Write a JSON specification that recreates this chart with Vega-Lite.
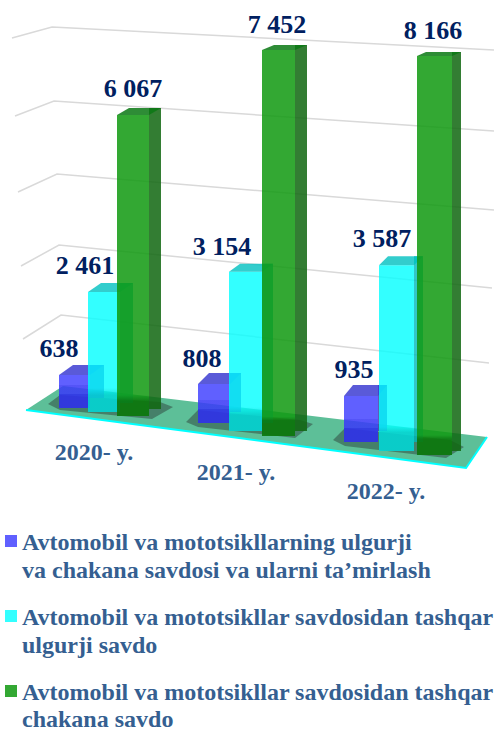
{"$schema":"https://vega.github.io/schema/vega-lite/v6.json","width":494,"height":729,"autosize":{"type":"none"},"padding":0,"background":"white","config":{"view":{"stroke":null}},
"datasets":{"bars":[
{"year":"2020- y.","s":"a","series":"Avtomobil va mototsikllarning ulgurji va chakana savdosi va ularni ta’mirlash","label":"638","value":638},
{"year":"2020- y.","s":"b","series":"Avtomobil va mototsikllar savdosidan tashqar ulgurji savdo","label":"2 461","value":2461},
{"year":"2020- y.","s":"c","series":"Avtomobil va mototsikllar savdosidan tashqar chakana savdo","label":"6 067","value":6067},
{"year":"2021- y.","s":"a","series":"Avtomobil va mototsikllarning ulgurji va chakana savdosi va ularni ta’mirlash","label":"808","value":808},
{"year":"2021- y.","s":"b","series":"Avtomobil va mototsikllar savdosidan tashqar ulgurji savdo","label":"3 154","value":3154},
{"year":"2021- y.","s":"c","series":"Avtomobil va mototsikllar savdosidan tashqar chakana savdo","label":"7 452","value":7452},
{"year":"2022- y.","s":"a","series":"Avtomobil va mototsikllarning ulgurji va chakana savdosi va ularni ta’mirlash","label":"935","value":935},
{"year":"2022- y.","s":"b","series":"Avtomobil va mototsikllar savdosidan tashqar ulgurji savdo","label":"3 587","value":3587},
{"year":"2022- y.","s":"c","series":"Avtomobil va mototsikllar savdosidan tashqar chakana savdo","label":"8 166","value":8166}],
"grid":[{"level":2000},{"level":4000},{"level":6000},{"level":8000},{"level":10000}],
"floor":[{"level":0}],
"key":[
{"s":"a","series":"Avtomobil va mototsikllarning ulgurji va chakana savdosi va ularni ta’mirlash","line":0,"text":"Avtomobil va mototsikllarning ulgurji"},
{"s":"a","series":"Avtomobil va mototsikllarning ulgurji va chakana savdosi va ularni ta’mirlash","line":1,"text":"\u00a0va chakana savdosi va ularni ta’mirlash"},
{"s":"b","series":"Avtomobil va mototsikllar savdosidan tashqar ulgurji savdo","line":0,"text":"Avtomobil va mototsikllar savdosidan tashqar"},
{"s":"b","series":"Avtomobil va mototsikllar savdosidan tashqar ulgurji savdo","line":1,"text":"ulgurji savdo"},
{"s":"c","series":"Avtomobil va mototsikllar savdosidan tashqar chakana savdo","line":0,"text":"Avtomobil va mototsikllar savdosidan tashqar"},
{"s":"c","series":"Avtomobil va mototsikllar savdosidan tashqar chakana savdo","line":1,"text":"chakana savdo"}]},
"data":{"name":"bars"},
"resolve":{"scale":{"x":"independent","y":"independent"}},
"layer":[
{"data":{"name":"grid"},"mark":{"type":"point","filled":false,"stroke":"#d9d9d9","strokeWidth":1.5,"opacity":1,"size":40000},"encoding":{"x":{"field":"level","type":"quantitative","axis":null,"scale":{"domain":[2000,10000],"range":[61,52],"nice":false,"zero":false}},"y":{"field":"level","type":"quantitative","axis":null,"scale":{"domain":[2000,10000],"range":[315,27],"nice":false,"zero":false}},"shape":{"field":"level","type":"ordinal","legend":null,"scale":{"domain":[2000,4000,6000,8000,10000],"range":["M-0.38 0.24L0 0L4.28 0.48","M-0.3775 0.23L0.0025 0.02L4.3325 0.45","M-0.385 0.21L0.005 0.03L4.375 0.39","M-0.3925 0.17L-0.0025 0.02L4.3975 0.32","M-0.40 0.11L0 0L4.42 0.23"]}}}},
{"data":{"name":"floor"},"encoding":{"x":{"field":"level","type":"quantitative","axis":null,"scale":{"domain":[0,1],"range":[63,64],"nice":false}},"y":{"field":"level","type":"quantitative","axis":null,"scale":{"domain":[0,1],"range":[386,385],"nice":false}}},"layer":[
{"mark":{"type":"point","filled":true,"fill":"#5dbf98","opacity":1,"size":40000,"shape":"M-0.37 0.24L0 0L4.24 0.51L4.03 0.82Z"}},
{"mark":{"type":"point","filled":true,"fill":"#222222","opacity":0.4,"size":40000,"shape":"M-0.15 0.18L-0.03 0.09L0.97 0.16L1.10 0.21L0.89 0.33L-0.03 0.24ZM1.23 0.36L1.35 0.24L2.37 0.34L2.50 0.38L2.32 0.52L1.35 0.41ZM2.70 0.54L2.82 0.42L3.87 0.54L4.01 0.61L3.83 0.72L2.82 0.60Z"}},
{"mark":{"type":"point","filled":false,"stroke":"#00ffff","strokeWidth":2,"opacity":1,"size":40000,"shape":"M-0.37 0.24L4.03 0.82L4.24 0.51"}}]},

{"transform":[{"filter":"datum.year=='2020- y.'&&datum.s=='a'"}],"encoding":{"x":{"field":"s","type":"nominal","axis":null,"scale":{"type":"point","domain":["a"],"range":[74.5,74.5]}},"y":{"field":"value","type":"quantitative","axis":null,"scale":{"domain":[0,8166],"range":[408,-14],"nice":false}}},"layer":[
{"mark":{"type":"bar","size":14,"color":"#4040b0","opacity":0.85,"xOffset":22.5,"yOffset":-10,"y2Offset":-5}},
{"mark":{"type":"bar","size":31,"opacity":0.85},"encoding":{"color":{"field":"series","type":"nominal","legend":null,"scale":{"domain":["Avtomobil va mototsikllarning ulgurji va chakana savdosi va ularni ta’mirlash","Avtomobil va mototsikllar savdosidan tashqar ulgurji savdo","Avtomobil va mototsikllar savdosidan tashqar chakana savdo"],"range":["#4444ff","#00ffff","#109910"]}}}},
{"mark":{"type":"bar","size":31,"fill":{"gradient":"linear","x1":0,"y1":0,"x2":0,"y2":1,"stops":[{"offset":0.30,"color":"rgba(0,0,192,0)"},{"offset":0.30,"color":"rgba(0,0,192,0.12)"},{"offset":0.58,"color":"rgba(0,0,192,0.12)"},{"offset":0.58,"color":"rgba(0,0,192,0.28)"},{"offset":1,"color":"rgba(0,0,192,0.28)"}]}}},
{"mark":{"type":"point","filled":true,"fill":"#3d3dd1","opacity":0.85,"size":400,"shape":"M-1.55 0L-0.15 -1L2.95 -1L1.55 0Z"}},
{"mark":{"type":"text","font":"Liberation Serif","fontWeight":"bold","fontSize":26,"color":"#002060","baseline":"alphabetic","dx":-15.5,"dy":-18},"encoding":{"text":{"field":"label"}}},
{"mark":{"type":"text","font":"Liberation Serif","fontWeight":"bold","fontSize":24,"color":"#355f91","baseline":"alphabetic","dx":19.5,"dy":85},"encoding":{"text":{"field":"year"}}}]},

{"transform":[{"filter":"datum.year=='2020- y.'&&datum.s=='b'"}],"encoding":{"x":{"field":"s","type":"nominal","axis":null,"scale":{"type":"point","domain":["b"],"range":[104,104]}},"y":{"field":"value","type":"quantitative","axis":null,"scale":{"domain":[0,8166],"range":[412,14],"nice":false}}},"layer":[
{"mark":{"type":"bar","size":13,"color":"#00b8b8","opacity":0.8,"xOffset":22.5,"yOffset":-9,"y2Offset":-5}},
{"mark":{"type":"bar","size":32,"opacity":0.8},"encoding":{"color":{"field":"series","type":"nominal","legend":null}}},
{"mark":{"type":"bar","size":32,"fill":{"gradient":"linear","x1":0,"y1":0,"x2":0,"y2":1,"stops":[{"offset":0.8,"color":"rgba(0,144,144,0)"},{"offset":0.86,"color":"rgba(0,144,144,0.3)"},{"offset":1,"color":"rgba(0,144,144,0.3)"}]}}},
{"mark":{"type":"point","filled":true,"fill":"#00c0c0","opacity":0.8,"size":400,"shape":"M-1.6 0L-0.3 -0.9L2.9 -0.9L1.6 0Z"}},
{"mark":{"type":"text","font":"Liberation Serif","fontWeight":"bold","fontSize":26,"color":"#002060","baseline":"alphabetic","dx":-19,"dy":-18},"encoding":{"text":{"field":"label"}}}]},

{"transform":[{"filter":"datum.year=='2020- y.'&&datum.s=='c'"}],"encoding":{"x":{"field":"s","type":"nominal","axis":null,"scale":{"type":"point","domain":["c"],"range":[133,133]}},"y":{"field":"value","type":"quantitative","axis":null,"scale":{"domain":[0,8166],"range":[416,11],"nice":false}}},"layer":[
{"mark":{"type":"bar","size":12,"color":"#106710","opacity":0.855,"xOffset":22,"yOffset":-7,"y2Offset":-6}},
{"mark":{"type":"bar","size":32,"opacity":0.855},"encoding":{"color":{"field":"series","type":"nominal","legend":null}}},
{"mark":{"type":"bar","size":32,"fill":{"gradient":"linear","x1":0,"y1":0,"x2":0,"y2":1,"stops":[{"offset":0.93,"color":"rgba(0,64,0,0)"},{"offset":0.95,"color":"rgba(0,64,0,0.35)"},{"offset":1,"color":"rgba(0,64,0,0.35)"}]}}},
{"mark":{"type":"point","filled":true,"fill":"#0a7814","opacity":0.855,"size":400,"shape":"M-1.6 0L-0.4 -0.7L2.8 -0.7L1.6 0Z"}},
{"mark":{"type":"text","font":"Liberation Serif","fontWeight":"bold","fontSize":26,"color":"#002060","baseline":"alphabetic","dx":0,"dy":-18},"encoding":{"text":{"field":"label"}}}]},

{"transform":[{"filter":"datum.year=='2021- y.'&&datum.s=='a'"}],"encoding":{"x":{"field":"s","type":"nominal","axis":null,"scale":{"type":"point","domain":["a"],"range":[214,214]}},"y":{"field":"value","type":"quantitative","axis":null,"scale":{"domain":[0,8166],"range":[423,29],"nice":false}}},"layer":[
{"mark":{"type":"bar","size":11,"color":"#4040b0","opacity":0.85,"xOffset":21.5,"yOffset":-11,"y2Offset":-5}},
{"mark":{"type":"bar","size":32,"opacity":0.85},"encoding":{"color":{"field":"series","type":"nominal","legend":null}}},
{"mark":{"type":"bar","size":32,"fill":{"gradient":"linear","x1":0,"y1":0,"x2":0,"y2":1,"stops":[{"offset":0.41,"color":"rgba(0,0,192,0)"},{"offset":0.41,"color":"rgba(0,0,192,0.12)"},{"offset":0.64,"color":"rgba(0,0,192,0.12)"},{"offset":0.64,"color":"rgba(0,0,192,0.28)"},{"offset":1,"color":"rgba(0,0,192,0.28)"}]}}},
{"mark":{"type":"point","filled":true,"fill":"#3d3dd1","opacity":0.85,"size":400,"shape":"M-1.6 0L-0.5 -1.1L2.7 -1.1L1.6 0Z"}},
{"mark":{"type":"text","font":"Liberation Serif","fontWeight":"bold","fontSize":26,"color":"#002060","baseline":"alphabetic","dx":-12,"dy":-17},"encoding":{"text":{"field":"label"}}},
{"mark":{"type":"text","font":"Liberation Serif","fontWeight":"bold","fontSize":24,"color":"#355f91","baseline":"alphabetic","dx":22,"dy":96},"encoding":{"text":{"field":"year"}}}]},

{"transform":[{"filter":"datum.year=='2021- y.'&&datum.s=='b'"}],"encoding":{"x":{"field":"s","type":"nominal","axis":null,"scale":{"type":"point","domain":["b"],"range":[245.5,245.5]}},"y":{"field":"value","type":"quantitative","axis":null,"scale":{"domain":[0,8166],"range":[431,19],"nice":false}}},"layer":[
{"mark":{"type":"bar","size":11,"color":"#00b8b8","opacity":0.8,"xOffset":22,"yOffset":-8,"y2Offset":-5}},
{"mark":{"type":"bar","size":33,"opacity":0.8},"encoding":{"color":{"field":"series","type":"nominal","legend":null}}},
{"mark":{"type":"bar","size":33,"fill":{"gradient":"linear","x1":0,"y1":0,"x2":0,"y2":1,"stops":[{"offset":0.85,"color":"rgba(0,144,144,0)"},{"offset":0.9,"color":"rgba(0,144,144,0.3)"},{"offset":1,"color":"rgba(0,144,144,0.3)"}]}}},
{"mark":{"type":"point","filled":true,"fill":"#00c0c0","opacity":0.8,"size":400,"shape":"M-1.65 0L-0.55 -0.8L2.75 -0.8L1.65 0Z"}},
{"mark":{"type":"text","font":"Liberation Serif","fontWeight":"bold","fontSize":26,"color":"#002060","baseline":"alphabetic","dx":-23.5,"dy":-17},"encoding":{"text":{"field":"label"}}}]},

{"transform":[{"filter":"datum.year=='2021- y.'&&datum.s=='c'"}],"encoding":{"x":{"field":"s","type":"nominal","axis":null,"scale":{"type":"point","domain":["c"],"range":[278.5,278.5]}},"y":{"field":"value","type":"quantitative","axis":null,"scale":{"domain":[0,8166],"range":[436,13],"nice":false}}},"layer":[
{"mark":{"type":"bar","size":12,"color":"#106710","opacity":0.855,"xOffset":22.5,"yOffset":-5,"y2Offset":-7}},
{"mark":{"type":"bar","size":33,"opacity":0.855},"encoding":{"color":{"field":"series","type":"nominal","legend":null}}},
{"mark":{"type":"bar","size":33,"fill":{"gradient":"linear","x1":0,"y1":0,"x2":0,"y2":1,"stops":[{"offset":0.95,"color":"rgba(0,64,0,0)"},{"offset":0.96,"color":"rgba(0,64,0,0.35)"},{"offset":1,"color":"rgba(0,64,0,0.35)"}]}}},
{"mark":{"type":"point","filled":true,"fill":"#0a7814","opacity":0.855,"size":400,"shape":"M-1.65 0L-0.45 -0.5L2.85 -0.5L1.65 0Z"}},
{"mark":{"type":"text","font":"Liberation Serif","fontWeight":"bold","fontSize":26,"color":"#002060","baseline":"alphabetic","dx":-1.5,"dy":-17},"encoding":{"text":{"field":"label"}}}]},

{"transform":[{"filter":"datum.year=='2022- y.'&&datum.s=='a'"}],"encoding":{"x":{"field":"s","type":"nominal","axis":null,"scale":{"type":"point","domain":["a"],"range":[361,361]}},"y":{"field":"value","type":"quantitative","axis":null,"scale":{"domain":[0,8166],"range":[442,40],"nice":false}}},"layer":[
{"mark":{"type":"bar","size":9,"color":"#4040b0","opacity":0.85,"xOffset":21.5,"yOffset":-11,"y2Offset":-5}},
{"mark":{"type":"bar","size":34,"opacity":0.85},"encoding":{"color":{"field":"series","type":"nominal","legend":null}}},
{"mark":{"type":"bar","size":34,"fill":{"gradient":"linear","x1":0,"y1":0,"x2":0,"y2":1,"stops":[{"offset":0.5,"color":"rgba(0,0,192,0)"},{"offset":0.5,"color":"rgba(0,0,192,0.12)"},{"offset":0.7,"color":"rgba(0,0,192,0.12)"},{"offset":0.7,"color":"rgba(0,0,192,0.28)"},{"offset":1,"color":"rgba(0,0,192,0.28)"}]}}},
{"mark":{"type":"point","filled":true,"fill":"#3d3dd1","opacity":0.85,"size":400,"shape":"M-1.7 0L-0.8 -1.1L2.6 -1.1L1.7 0Z"}},
{"mark":{"type":"text","font":"Liberation Serif","fontWeight":"bold","fontSize":26,"color":"#002060","baseline":"alphabetic","dx":-7,"dy":-18},"encoding":{"text":{"field":"label"}}},
{"mark":{"type":"text","font":"Liberation Serif","fontWeight":"bold","fontSize":24,"color":"#355f91","baseline":"alphabetic","dx":25,"dy":103},"encoding":{"text":{"field":"year"}}}]},

{"transform":[{"filter":"datum.year=='2022- y.'&&datum.s=='b'"}],"encoding":{"x":{"field":"s","type":"nominal","axis":null,"scale":{"type":"point","domain":["b"],"range":[396.5,396.5]}},"y":{"field":"value","type":"quantitative","axis":null,"scale":{"domain":[0,8166],"range":[451,28],"nice":false}}},"layer":[
{"mark":{"type":"bar","size":9,"color":"#00b8b8","opacity":0.8,"xOffset":22,"yOffset":-9,"y2Offset":-5}},
{"mark":{"type":"bar","size":35,"opacity":0.8},"encoding":{"color":{"field":"series","type":"nominal","legend":null}}},
{"mark":{"type":"bar","size":35,"fill":{"gradient":"linear","x1":0,"y1":0,"x2":0,"y2":1,"stops":[{"offset":0.87,"color":"rgba(0,144,144,0)"},{"offset":0.9,"color":"rgba(0,144,144,0.3)"},{"offset":1,"color":"rgba(0,144,144,0.3)"}]}}},
{"mark":{"type":"point","filled":true,"fill":"#00c0c0","opacity":0.8,"size":400,"shape":"M-1.75 0L-0.85 -0.9L2.65 -0.9L1.75 0Z"}},
{"mark":{"type":"text","font":"Liberation Serif","fontWeight":"bold","fontSize":26,"color":"#002060","baseline":"alphabetic","dx":-14.5,"dy":-18},"encoding":{"text":{"field":"label"}}}]},

{"transform":[{"filter":"datum.year=='2022- y.'&&datum.s=='c'"}],"encoding":{"x":{"field":"s","type":"nominal","axis":null,"scale":{"type":"point","domain":["c"],"range":[434.5,434.5]}},"y":{"field":"value","type":"quantitative","axis":null,"scale":{"domain":[0,8166],"range":[455,56],"nice":false}}},"layer":[
{"mark":{"type":"bar","size":9,"color":"#106710","opacity":0.855,"xOffset":22,"yOffset":-4,"y2Offset":-7}},
{"mark":{"type":"bar","size":35,"opacity":0.855},"encoding":{"color":{"field":"series","type":"nominal","legend":null}}},
{"mark":{"type":"bar","size":35,"fill":{"gradient":"linear","x1":0,"y1":0,"x2":0,"y2":1,"stops":[{"offset":0.95,"color":"rgba(0,64,0,0)"},{"offset":0.96,"color":"rgba(0,64,0,0.35)"},{"offset":1,"color":"rgba(0,64,0,0.35)"}]}}},
{"mark":{"type":"point","filled":true,"fill":"#0a7814","opacity":0.855,"size":400,"shape":"M-1.75 0L-0.85 -0.4L2.65 -0.4L1.75 0Z"}},
{"mark":{"type":"text","font":"Liberation Serif","fontWeight":"bold","fontSize":26,"color":"#002060","baseline":"alphabetic","dx":-1.5,"dy":-17},"encoding":{"text":{"field":"label"}}}]},

{"data":{"name":"key"},"transform":[{"filter":"datum.s=='a'"}],"encoding":{"x":{"field":"s","type":"nominal","axis":null,"scale":{"type":"point","domain":["a"],"range":[22,22]}},"y":{"field":"line","type":"quantitative","axis":null,"scale":{"domain":[0,1],"range":[550,578],"nice":false}}},"layer":[
{"transform":[{"filter":"datum.line==0"}],"mark":{"type":"point","shape":"square","filled":true,"size":144,"opacity":0.85,"xOffset":-11,"yOffset":-9},"encoding":{"color":{"field":"series","type":"nominal","legend":null}}},
{"mark":{"type":"text","font":"Liberation Serif","fontWeight":"bold","fontSize":24,"color":"#355f91","align":"left","baseline":"alphabetic"},"encoding":{"text":{"field":"text"}}}]},
{"data":{"name":"key"},"transform":[{"filter":"datum.s=='b'"}],"encoding":{"x":{"field":"s","type":"nominal","axis":null,"scale":{"type":"point","domain":["b"],"range":[22,22]}},"y":{"field":"line","type":"quantitative","axis":null,"scale":{"domain":[0,1],"range":[625,653],"nice":false}}},"layer":[
{"transform":[{"filter":"datum.line==0"}],"mark":{"type":"point","shape":"square","filled":true,"size":144,"opacity":0.8,"xOffset":-11,"yOffset":-9},"encoding":{"color":{"field":"series","type":"nominal","legend":null}}},
{"mark":{"type":"text","font":"Liberation Serif","fontWeight":"bold","fontSize":24,"color":"#355f91","align":"left","baseline":"alphabetic"},"encoding":{"text":{"field":"text"}}}]},
{"data":{"name":"key"},"transform":[{"filter":"datum.s=='c'"}],"encoding":{"x":{"field":"s","type":"nominal","axis":null,"scale":{"type":"point","domain":["c"],"range":[22,22]}},"y":{"field":"line","type":"quantitative","axis":null,"scale":{"domain":[0,1],"range":[700,727],"nice":false}}},"layer":[
{"transform":[{"filter":"datum.line==0"}],"mark":{"type":"point","shape":"square","filled":true,"size":144,"opacity":0.855,"xOffset":-11,"yOffset":-9},"encoding":{"color":{"field":"series","type":"nominal","legend":null}}},
{"mark":{"type":"text","font":"Liberation Serif","fontWeight":"bold","fontSize":24,"color":"#355f91","align":"left","baseline":"alphabetic"},"encoding":{"text":{"field":"text"}}}]}
]}
